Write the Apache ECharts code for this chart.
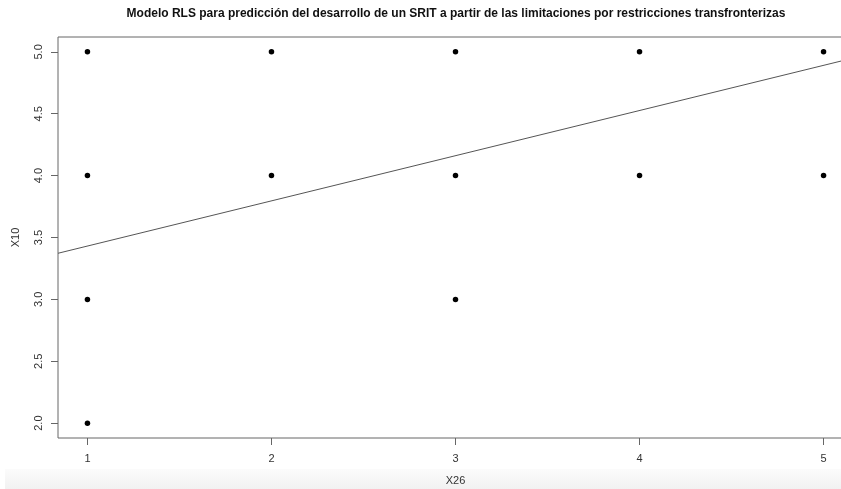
<!DOCTYPE html>
<html>
<head>
<meta charset="utf-8">
<script src="https://cdn.jsdelivr.net/npm/echarts@6/dist/echarts.min.js"></script>
<style>
    html, body { margin: 0; padding: 0; background: #fff; }
    #chart { width: 841px; height: 489px; }
</style>
</head>
<body>
<div id="chart"></div>
<script>
    // puntos observados (X26, X10)
    var x26 = [1, 1, 1, 1, 2, 2, 3, 3, 3, 4, 4, 5, 5];
    var x10 = [5, 4, 3, 2, 5, 4, 5, 4, 3, 5, 4, 5, 4];
    // recta de regresion
    var intercept = 3.066;
    var slope = 0.365;
    var xTicks = [1, 2, 3, 4, 5];
    var yTicks = [2.0, 2.5, 3.0, 3.5, 4.0, 4.5, 5.0];

    // rango de ejes estilo R (4% extra)
    var xMin = 0.84, xMax = 5.16;
    var yMin = 1.88, yMax = 5.12;

    var points = x26.map(function (v, i) { return [v, x10[i]]; });
    var fit = [xMin, xMax].map(function (v) { return [v, intercept + slope * v]; });

    var chart = echarts.init(document.getElementById('chart'));
    var font = 'Liberation Sans, Arial, sans-serif';
    chart.setOption({
        backgroundColor: '#fff',
        animation: false,
        graphic: [
            {
                type: 'rect', z: -1,
                shape: { x: 5, y: 469, width: 836, height: 20 },
                style: {
                    fill: new echarts.graphic.LinearGradient(0, 0, 0, 1, [
                        { offset: 0, color: '#fbfbfb' },
                        { offset: 1, color: '#f1f1f1' }
                    ])
                }
            },
            {
                type: 'text', x: 456, y: 14,
                style: {
                    text: 'Modelo RLS para predicción del desarrollo de un SRIT a partir de las limitaciones por restricciones transfronterizas',
                    font: 'bold 12px ' + font,
                    fill: '#111',
                    textAlign: 'center',
                    textVerticalAlign: 'middle'
                }
            }
        ],
        grid: {
            left: 58, right: -12, top: 37, bottom: 51,
            outerBoundsMode: 'none', containLabel: false,
            show: true, borderColor: '#666', borderWidth: 1
        },
        xAxis: {
            type: 'value', min: xMin, max: xMax,
            name: 'X26', nameLocation: 'middle', nameGap: 37,
            nameTextStyle: { fontFamily: font, fontSize: 11, color: '#333' },
            splitLine: { show: false },
            axisLine: { show: false },
            axisTick: { show: true, inside: false, length: 7, customValues: xTicks, lineStyle: { color: '#666' } },
            axisLabel: { customValues: xTicks, margin: 15, fontFamily: font, fontSize: 11, color: '#333' }
        },
        yAxis: {
            type: 'value', min: yMin, max: yMax,
            name: 'X10', nameLocation: 'middle', nameGap: 37, nameRotate: 90,
            nameTextStyle: { fontFamily: font, fontSize: 11, color: '#333' },
            splitLine: { show: false },
            axisLine: { show: false },
            axisTick: { show: true, inside: false, length: 7, customValues: yTicks, lineStyle: { color: '#666' } },
            axisLabel: {
                customValues: yTicks, rotate: 90, margin: 14,
                fontFamily: font, fontSize: 11, color: '#333',
                formatter: function (v) { return v.toFixed(1); }
            }
        },
        series: [
            {
                type: 'scatter', data: points,
                symbol: 'circle', symbolSize: 5.5,
                itemStyle: { color: '#000', opacity: 1 }
            },
            {
                type: 'line', data: fit, showSymbol: false,
                lineStyle: { color: '#555', width: 1 }
            }
        ]
    });
</script>
</body>
</html>
